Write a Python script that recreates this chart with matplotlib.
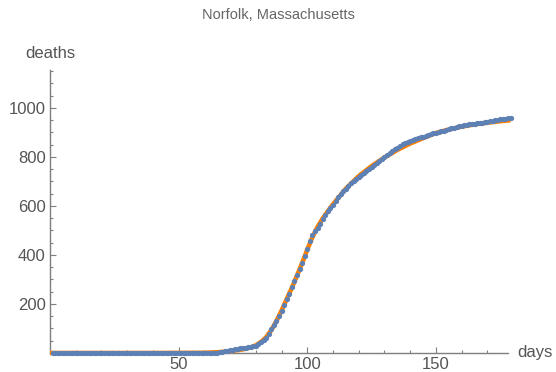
import numpy as np
import matplotlib
matplotlib.use("Agg")
import matplotlib.pyplot as plt
from matplotlib.ticker import MultipleLocator, FixedLocator

plt.rcParams['font.family'] = ['Liberation Sans', 'DejaVu Sans']

# observed cumulative deaths, one value per day (days 1..179)
deaths = [0] * 62 + [
    1, 1, 2, 3, 5, 7, 9, 11, 13, 15, 17, 19, 20, 21, 23, 25, 27, 30,    # 63-80
    36, 44, 53, 63, 78, 98, 113, 131, 152, 172,                          # 81-90
    196, 220, 240, 268, 292, 318, 342, 368, 395, 425,                    # 91-100
    456, 480, 496, 512, 528, 545, 562, 578, 592, 606,                    # 101-110
    621, 635, 648, 660, 671, 682, 692, 701, 710, 718,                    # 111-120
    727, 735, 743, 751, 759, 767, 775, 783, 791, 799,                    # 121-130
    807, 815, 823, 831, 838, 845, 851, 856, 860, 864,                    # 131-140
    868, 872, 876, 880, 883, 886, 890, 893, 896, 899,                    # 141-150
    902, 905, 908, 911, 914, 917, 920, 923, 926, 928,                    # 151-160
    930, 932, 933, 934, 935, 937, 938, 940, 942, 944,                    # 161-170
    946, 948, 950, 952, 954, 955, 957, 959, 961,                         # 171-179
]
days = list(range(1, len(deaths) + 1))

# fitted curve
fit_days = [0, 40, 60, 65, 70, 75, 78, 80, 82, 84, 86, 88, 90, 92, 94, 96,
            98, 100, 102, 104, 106, 108, 110, 115, 120, 125, 130, 135, 140,
            145, 150, 155, 160, 165, 170, 175, 179]
fit_vals = [0, 0, 1, 3, 7, 15, 23, 31, 45, 64, 93, 130, 173, 220, 266, 316,
            367, 422, 473, 515, 549, 579, 607, 671, 722, 763, 798, 829, 855,
            877, 898, 912, 924, 933, 940, 946, 950]

gray = '#7f7f7f'
txt = '#555555'

fig = plt.figure(figsize=(5.56, 3.72), dpi=100)
ax = fig.add_axes([50 / 556, 1 - 353 / 372, (508 - 50) / 556, (353 - 70) / 372])

ax.plot(fit_days, fit_vals, color='#ff8000', lw=3.3, solid_capstyle='butt',
        zorder=2, clip_on=False)
ax.plot(days, deaths, ls='none', marker='o', ms=3.8, mew=0, color='#5e81b5',
        zorder=3, clip_on=False)

ax.set_xlim(0, 178)
ax.set_ylim(0, 1155)

for s in ['top', 'right']:
    ax.spines[s].set_visible(False)
for s in ['left', 'bottom']:
    ax.spines[s].set_color(gray)
    ax.spines[s].set_linewidth(1.0)
    ax.spines[s].set_zorder(1)

ax.xaxis.set_major_locator(FixedLocator([50, 100, 150]))
ax.xaxis.set_minor_locator(MultipleLocator(10))
ax.yaxis.set_major_locator(FixedLocator([200, 400, 600, 800, 1000]))
ax.yaxis.set_minor_locator(MultipleLocator(50))
ax.tick_params(which='both', direction='in', color=gray, width=0.8)
ax.tick_params(which='major', length=4.5, labelsize=12, labelcolor=txt, pad=3)
ax.tick_params(which='minor', length=2.5)

ax.text(0, 1190, 'deaths', ha='center', va='bottom', fontsize=12, color=txt)
ax.text(181.5, 0, 'days', ha='left', va='center', fontsize=12, color=txt, clip_on=False)
fig.text(0.5, 1 - 15 / 372, 'Norfolk, Massachusetts', ha='center', va='center',
         fontsize=10.5, color='#666666')

plt.savefig('out.png', dpi=100)
